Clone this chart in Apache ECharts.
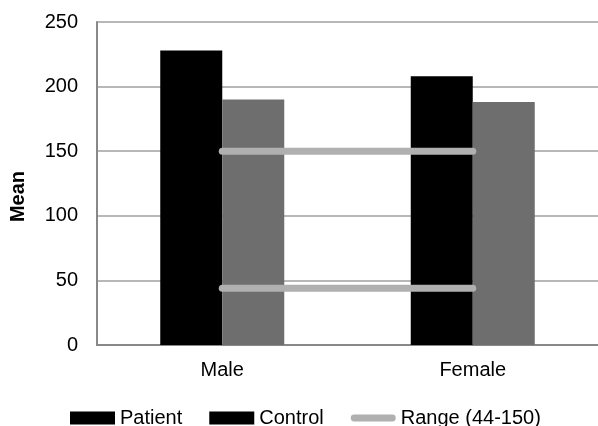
<!DOCTYPE html>
<html>
<head>
<meta charset="utf-8">
<script src="https://cdn.jsdelivr.net/npm/echarts@6/dist/echarts.min.js"></script>
<style>html,body{margin:0;padding:0;background:#fff}#c{width:598px;height:426px}</style>
</head>
<body>
<div id="c"></div>
<script>
const categories = ['Male', 'Female'];
const patient = [228, 208];
const control = [190, 188];
const rangeUpper = [150, 150];
const rangeLower = [44, 44];
const yTicks = [0, 50, 100, 150, 200, 250];

const FONT = '"Liberation Sans", Arial, sans-serif';
const chart = echarts.init(document.getElementById('c'), null, {renderer: 'canvas'});
const rangeName = 'Range (44-150)';
const lineStyle = {color: '#b0b0b0', width: 7, cap: 'round'};
const lineIcon = 'path://M0,0 M46,13 M3.5,3 L42.5,3 A3.5,3.5 0 0 1 42.5,10 L3.5,10 A3.5,3.5 0 0 1 3.5,3 Z';
chart.setOption({
  animation: false,
  textStyle: {fontFamily: FONT},
  grid: {left: 97, width: 506, top: 22, height: 323},
  legend: {
    top: 408, left: 70, padding: 0,
    itemWidth: 45, itemHeight: 13, itemGap: 27,
    textStyle: {fontSize: 20, color: '#000', fontFamily: FONT},
    data: [
      {name: 'Patient', icon: 'rect', itemStyle: {color: '#000'}},
      {name: 'Control', icon: 'rect', itemStyle: {color: '#000'}},
      {name: rangeName, icon: lineIcon, itemStyle: {color: '#b0b0b0'}}
    ]
  },
  xAxis: {
    type: 'category',
    data: categories,
    axisLine: {lineStyle: {color: '#888', width: 2}},
    axisTick: {show: false},
    axisLabel: {fontSize: 20, color: '#000', margin: 15, fontFamily: FONT}
  },
  yAxis: {
    type: 'value', min: 0, max: 250, interval: 50,
    name: 'Mean', nameLocation: 'middle', nameGap: 69,
    nameTextStyle: {fontSize: 20, fontWeight: 'bold', color: '#000', fontFamily: FONT,
      padding: [0, 26, 0, 0]},
    axisLine: {show: true, lineStyle: {color: '#888', width: 2}},
    axisTick: {show: false},
    axisLabel: {fontSize: 20, color: '#000', margin: 19, fontFamily: FONT,
      formatter: v => yTicks.includes(v) ? String(v) : ''},
    splitLine: {lineStyle: {color: '#a0a0a0', width: 1.5}}
  },
  series: [
    {name: 'Patient', type: 'bar', data: patient, barWidth: 62, barGap: '0%',
     itemStyle: {color: '#000'}},
    {name: 'Control', type: 'bar', data: control, barWidth: 62, barGap: '0%',
     itemStyle: {color: '#6e6e6e'}},
    {name: rangeName, type: 'line', data: rangeUpper, symbol: 'none', z: 5,
     lineStyle: lineStyle, itemStyle: {color: '#b0b0b0'}},
    {name: rangeName, type: 'line', data: rangeLower, symbol: 'none', z: 5,
     lineStyle: lineStyle, itemStyle: {color: '#b0b0b0'}}
  ]
});
</script>
</body>
</html>
